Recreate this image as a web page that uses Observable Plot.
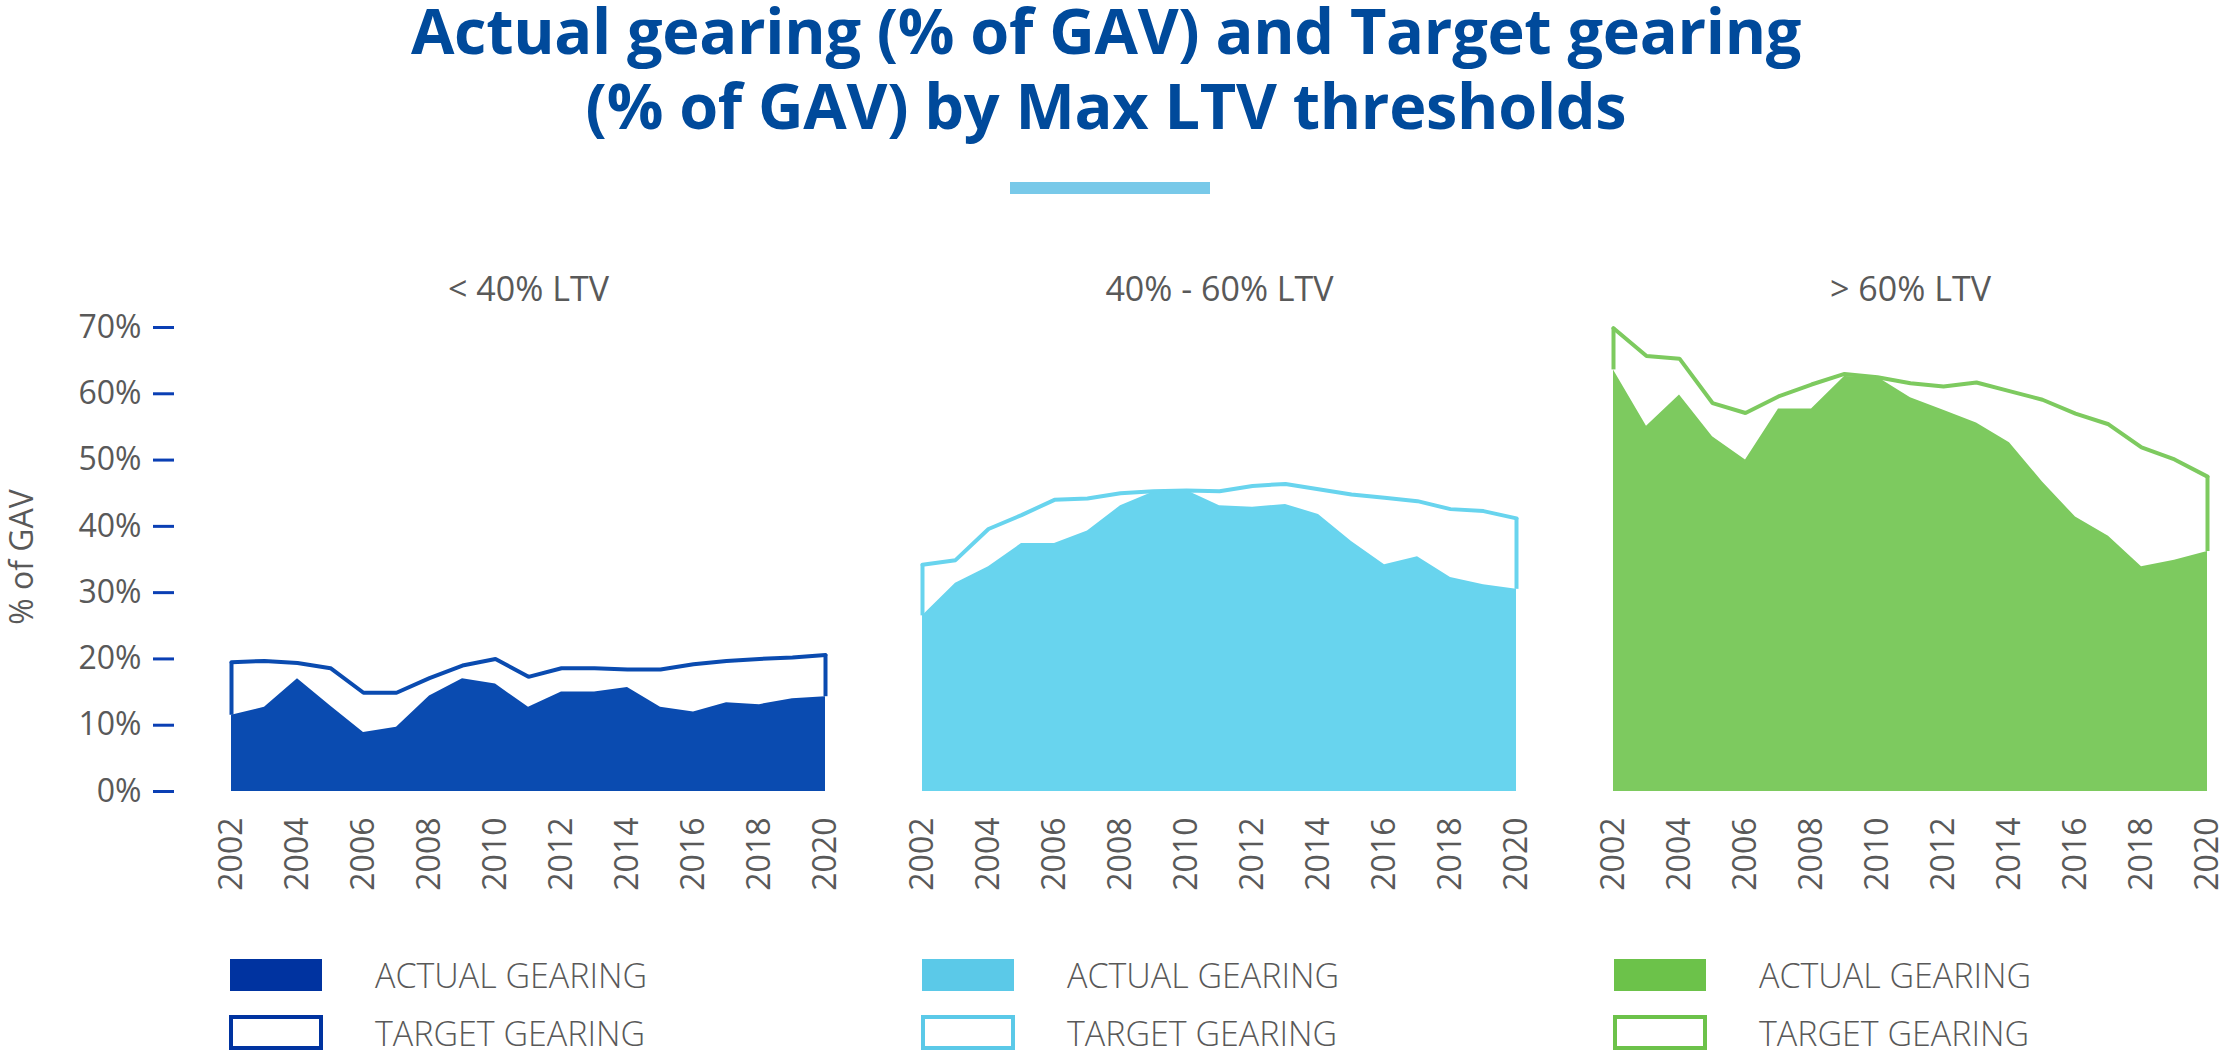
<!DOCTYPE html>
<html>
<head>
<meta charset="utf-8">
<script src="https://cdn.jsdelivr.net/npm/d3@7"></script>
<script src="https://cdn.jsdelivr.net/npm/@observablehq/plot@0.6"></script>
<style>
  html, body { margin: 0; padding: 0; background: #fff; }
  body { width: 2228px; height: 1053px; position: relative; overflow: hidden; font-family: "Open Sans", sans-serif; }
  .tl { position: absolute; left: 0; width: 2212px; text-align: center; color: #004a9b; font-weight: 700; font-size: 63px; line-height: 60px; height: 60px; letter-spacing: -0.3px; white-space: nowrap; }
  #bar { position: absolute; left: 1010px; top: 182px; width: 200px; height: 12px; background: #78c9e9; }
  #chart { position: absolute; left: 0; top: 240px; }
  #ylabel { position: absolute; left: 20px; top: 557px; transform: translate(-50%, -50%) rotate(-90deg); font-size: 32px; color: #595959; white-space: nowrap; }
  .leg { position: absolute; display: flex; align-items: center; }
  .sw { width: 92px; height: 32px; box-sizing: border-box; }
  .lt { position: absolute; left: 145px; font-size: 34px; color: #595959; white-space: nowrap; font-weight: 300; }
</style>
</head>
<body>
<div class="tl" style="top: 0px;">Actual gearing (% of GAV) and Target gearing</div>
<div class="tl" style="top: 75px;">(% of GAV) by Max LTV thresholds</div>
<div id="bar"></div>
<div id="chart"></div>
<div id="ylabel">% of GAV</div>
<div id="legend"></div>
<script>
const years = [2002,2003,2004,2005,2006,2007,2008,2009,2010,2011,2012,2013,2014,2015,2016,2017,2018,2019,2020];
const groups = ["< 40% LTV", "40% - 60% LTV", "> 60% LTV"];
const actualLt40 = [11.5,12.7,17.0,12.9,8.9,9.7,14.4,17.0,16.2,12.7,15.0,15.0,15.7,12.7,12.0,13.4,13.1,14.0,14.3];
const targetLt40 = [19.5,19.7,19.4,18.6,14.9,14.9,17.1,19.0,20.0,17.3,18.6,18.6,18.4,18.4,19.2,19.7,20.0,20.2,20.6];
const actual40to60 = [26.5,31.4,33.9,37.4,37.4,39.3,43.1,45.2,45.4,43.1,42.9,43.3,41.8,37.7,34.2,35.4,32.3,31.2,30.5];
const target40to60 = [34.2,34.9,39.6,41.7,44.0,44.2,45.0,45.3,45.4,45.3,46.1,46.4,45.6,44.8,44.3,43.8,42.6,42.3,41.2];
const actualGt60 = [63.6,55.1,59.8,53.5,50.0,57.7,57.7,62.6,62.5,59.4,57.5,55.6,52.6,46.7,41.4,38.5,33.9,34.9,36.2];
const targetGt60 = [69.9,65.7,65.3,58.6,57.1,59.6,61.4,63.0,62.5,61.6,61.1,61.7,60.4,59.1,57.0,55.4,51.9,50.1,47.5];
const fillColors = ["#0a4bb0", "#68d4ee", "#7dca5f"];
const legendColors = ["#0033a0", "#5bc9e8", "#6cc24a"];
const yTicks = [0,10,20,30,40,50,60,70];
const xTicks = [2002,2004,2006,2008,2010,2012,2014,2016,2018,2020];
const legendLabels = ["ACTUAL GEARING", "TARGET GEARING"];

const actuals = [actualLt40, actual40to60, actualGt60];
const targets = [targetLt40, target40to60, targetGt60];
const rows = [];
groups.forEach((g, gi) => years.forEach((yr, i) => rows.push({group: g, year: yr, actual: actuals[gi][i], target: targets[gi][i]})));
const ends = rows.filter(d => d.year === years[0] || d.year === years[years.length - 1]);

const chart = Plot.plot({
  width: 2228,
  height: 660,
  marginLeft: 230,
  marginRight: 20,
  marginTop: 87,
  marginBottom: 109,
  style: {fontFamily: "Open Sans, sans-serif", fontSize: "32px", color: "#595959", background: "white"},
  fx: {domain: groups, paddingInner: 0.14, paddingOuter: 0, label: null},
  x: {domain: [2002, 2020], label: null},
  y: {domain: [0, 70], label: null},
  color: {domain: groups, range: fillColors},
  marks: [
    Plot.axisFx({anchor: "top", tickSize: 0, tickPadding: 27, label: null, fill: "#595959", fontSize: 34}),
    Plot.axisX({ticks: xTicks, tickFormat: d => String(d), tickRotate: -90, tickSize: 0, tickPadding: 26, label: null, fill: "#595959"}),
    Plot.axisY({ticks: yTicks, tickFormat: d => d + "%", tickSize: 21, tickPadding: 12, dx: -57, label: null, stroke: "#0a3fb4", strokeWidth: 3, fill: "#595959"}),
    Plot.areaY(rows, {fx: "group", x: "year", y: "actual", fill: "group", curve: "linear"}),
    Plot.lineY(rows, {fx: "group", x: "year", y: "target", stroke: "group", strokeWidth: 4, strokeLinejoin: "miter"}),
    Plot.ruleX(ends, {fx: "group", x: "year", y1: "actual", y2: "target", stroke: "group", strokeWidth: 4})
  ]
});
document.getElementById("chart").appendChild(chart);

const legend = document.getElementById("legend");
const colLeft = [230, 922, 1614];
legendColors.forEach((c, i) => {
  legendLabels.forEach((lab, j) => {
    const row = document.createElement("div");
    row.className = "leg";
    row.style.left = colLeft[i] + "px";
    row.style.top = (j === 0 ? 959 : 1015) + "px";
    const sw = document.createElement("div");
    sw.className = "sw";
    if (j === 0) { sw.style.background = c; }
    else { sw.style.border = "4px solid " + c; sw.style.height = "35px"; sw.style.width = "94px"; sw.style.marginLeft = "-1px"; }
    const t = document.createElement("div");
    t.className = "lt";
    t.textContent = lab;
    row.appendChild(sw);
    row.appendChild(t);
    legend.appendChild(row);
  });
});
</script>
</body>
</html>
